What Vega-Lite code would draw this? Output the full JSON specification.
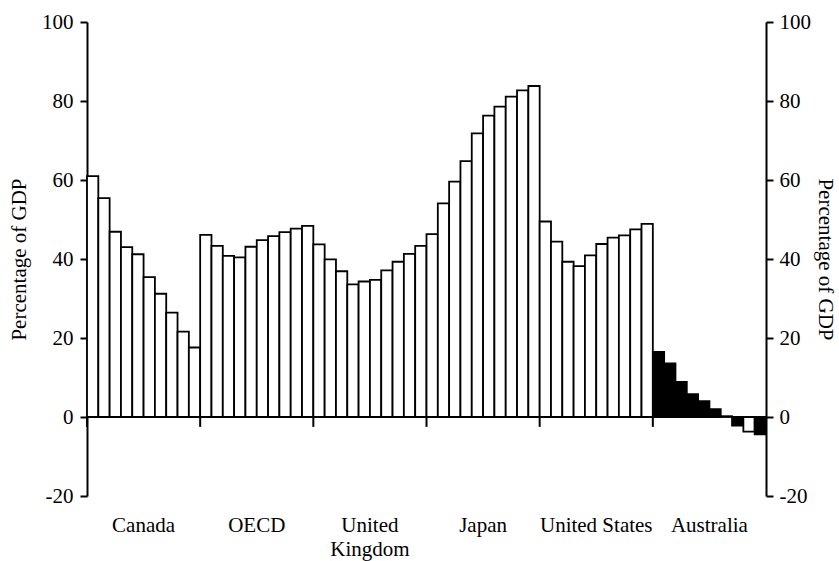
{
  "$schema": "https://vega.github.io/schema/vega-lite/v6.json",
  "width": 679,
  "height": 474,
  "autosize": {"type": "none"},
  "padding": {"left": 87, "top": 22, "right": 73, "bottom": 65},
  "background": "white",
  "config": {
    "view": {"stroke": null},
    "font": "Liberation Serif",
    "axis": {
      "labelFont": "Liberation Serif",
      "titleFont": "Liberation Serif",
      "labelFontSize": 21,
      "titleFontSize": 21,
      "titleFontWeight": "normal",
      "labelColor": "black",
      "titleColor": "black",
      "domainColor": "black",
      "tickColor": "black",
      "domainWidth": 2,
      "tickWidth": 2,
      "grid": false
    }
  },
  "datasets": {
    "debt": [
      {"c": "Canada", "yr": 1, "v": 61.0, "k": "A"},
      {"c": "Canada", "yr": 2, "v": 55.4, "k": "A"},
      {"c": "Canada", "yr": 3, "v": 46.9, "k": "A"},
      {"c": "Canada", "yr": 4, "v": 43.0, "k": "A"},
      {"c": "Canada", "yr": 5, "v": 41.2, "k": "A"},
      {"c": "Canada", "yr": 6, "v": 35.4, "k": "A"},
      {"c": "Canada", "yr": 7, "v": 31.2, "k": "A"},
      {"c": "Canada", "yr": 8, "v": 26.4, "k": "A"},
      {"c": "Canada", "yr": 9, "v": 21.6, "k": "A"},
      {"c": "Canada", "yr": 10, "v": 17.6, "k": "A"},
      {"c": "OECD", "yr": 1, "v": 46.1, "k": "A"},
      {"c": "OECD", "yr": 2, "v": 43.3, "k": "A"},
      {"c": "OECD", "yr": 3, "v": 40.8, "k": "A"},
      {"c": "OECD", "yr": 4, "v": 40.4, "k": "A"},
      {"c": "OECD", "yr": 5, "v": 43.1, "k": "A"},
      {"c": "OECD", "yr": 6, "v": 44.8, "k": "A"},
      {"c": "OECD", "yr": 7, "v": 45.8, "k": "A"},
      {"c": "OECD", "yr": 8, "v": 46.8, "k": "A"},
      {"c": "OECD", "yr": 9, "v": 47.7, "k": "A"},
      {"c": "OECD", "yr": 10, "v": 48.4, "k": "A"},
      {"c": "United Kingdom", "yr": 1, "v": 43.7, "k": "A"},
      {"c": "United Kingdom", "yr": 2, "v": 39.9, "k": "A"},
      {"c": "United Kingdom", "yr": 3, "v": 36.9, "k": "A"},
      {"c": "United Kingdom", "yr": 4, "v": 33.6, "k": "A"},
      {"c": "United Kingdom", "yr": 5, "v": 34.3, "k": "A"},
      {"c": "United Kingdom", "yr": 6, "v": 34.7, "k": "A"},
      {"c": "United Kingdom", "yr": 7, "v": 37.1, "k": "A"},
      {"c": "United Kingdom", "yr": 8, "v": 39.3, "k": "A"},
      {"c": "United Kingdom", "yr": 9, "v": 41.3, "k": "A"},
      {"c": "United Kingdom", "yr": 10, "v": 43.3, "k": "A"},
      {"c": "Japan", "yr": 1, "v": 46.3, "k": "A"},
      {"c": "Japan", "yr": 2, "v": 54.1, "k": "A"},
      {"c": "Japan", "yr": 3, "v": 59.6, "k": "A"},
      {"c": "Japan", "yr": 4, "v": 64.8, "k": "A"},
      {"c": "Japan", "yr": 5, "v": 71.8, "k": "A"},
      {"c": "Japan", "yr": 6, "v": 76.3, "k": "A"},
      {"c": "Japan", "yr": 7, "v": 78.6, "k": "A"},
      {"c": "Japan", "yr": 8, "v": 81.1, "k": "A"},
      {"c": "Japan", "yr": 9, "v": 82.7, "k": "A"},
      {"c": "Japan", "yr": 10, "v": 83.8, "k": "A"},
      {"c": "United States", "yr": 1, "v": 49.5, "k": "A"},
      {"c": "United States", "yr": 2, "v": 44.4, "k": "A"},
      {"c": "United States", "yr": 3, "v": 39.3, "k": "A"},
      {"c": "United States", "yr": 4, "v": 38.2, "k": "A"},
      {"c": "United States", "yr": 5, "v": 40.9, "k": "A"},
      {"c": "United States", "yr": 6, "v": 43.8, "k": "A"},
      {"c": "United States", "yr": 7, "v": 45.4, "k": "A"},
      {"c": "United States", "yr": 8, "v": 46.0, "k": "A"},
      {"c": "United States", "yr": 9, "v": 47.5, "k": "A"},
      {"c": "United States", "yr": 10, "v": 48.9, "k": "A"},
      {"c": "Australia", "yr": 1, "v": 16.5, "k": "B"},
      {"c": "Australia", "yr": 2, "v": 13.6, "k": "B"},
      {"c": "Australia", "yr": 3, "v": 8.9, "k": "B"},
      {"c": "Australia", "yr": 4, "v": 5.8, "k": "B"},
      {"c": "Australia", "yr": 5, "v": 4.0, "k": "B"},
      {"c": "Australia", "yr": 6, "v": 2.0, "k": "B"},
      {"c": "Australia", "yr": 7, "v": 0.2, "k": "B"},
      {"c": "Australia", "yr": 8, "v": -2.2, "k": "B"},
      {"c": "Australia", "yr": 9, "v": -3.7, "k": "A"},
      {"c": "Australia", "yr": 10, "v": -4.4, "k": "B"}
    ],
    "groups": [
      {"c": "Canada"},
      {"c": "OECD"},
      {"c": "United Kingdom"},
      {"c": "Japan"},
      {"c": "United States"},
      {"c": "Australia"}
    ]
  },
  "resolve": {"scale": {"y": "independent"}},
  "layer": [
    {
      "data": {"name": "debt"},
      "mark": {"type": "bar", "stroke": "black", "strokeWidth": 1.8},
      "encoding": {
        "x": {
          "field": "c",
          "type": "nominal",
          "scale": {
            "domain": ["Canada", "OECD", "United Kingdom", "Japan", "United States", "Australia"],
            "paddingInner": 0,
            "paddingOuter": 0
          },
          "axis": {
            "orient": "bottom",
            "title": null,
            "domain": false,
            "ticks": false,
            "labelAngle": 0,
            "labelPadding": 18,
            "labelLineHeight": 24,
            "labelExpr": "datum.label == 'United Kingdom' ? ['United', 'Kingdom'] : datum.label"
          }
        },
        "xOffset": {
          "field": "yr",
          "type": "ordinal",
          "scale": {"paddingInner": 0, "paddingOuter": 0}
        },
        "y": {
          "field": "v",
          "type": "quantitative",
          "scale": {"domain": [-20, 100], "nice": false, "zero": false},
          "axis": {
            "orient": "left",
            "title": "Percentage of GDP",
            "values": [-20, 0, 20, 40, 60, 80, 100],
            "labelExpr": "'' + datum.value",
            "tickSize": 7,
            "labelPadding": 7,
            "titlePadding": 12
          }
        },
        "fill": {
          "field": "k",
          "type": "nominal",
          "scale": {"domain": ["A", "B"], "range": ["white", "black"]},
          "legend": null
        }
      }
    },
    {
      "mark": {"type": "rule", "color": "black", "strokeWidth": 2},
      "encoding": {
        "y": {
          "datum": 0,
          "type": "quantitative",
          "scale": {"domain": [-20, 100], "nice": false, "zero": false},
          "axis": {
            "orient": "right",
            "title": "Percentage of GDP",
            "values": [-20, 0, 20, 40, 60, 80, 100],
            "labelExpr": "'' + datum.value",
            "tickSize": 7,
            "labelPadding": 6,
            "titlePadding": 4
          }
        }
      }
    },
    {
      "data": {"name": "groups"},
      "mark": {"type": "rule", "color": "black", "strokeWidth": 2},
      "encoding": {
        "x": {"field": "c", "type": "nominal", "bandPosition": 0},
        "y": {
          "datum": 0,
          "type": "quantitative",
          "scale": {"domain": [-20, 100], "nice": false, "zero": false},
          "axis": null
        },
        "y2": {"datum": -2.5}
      }
    }
  ]
}
